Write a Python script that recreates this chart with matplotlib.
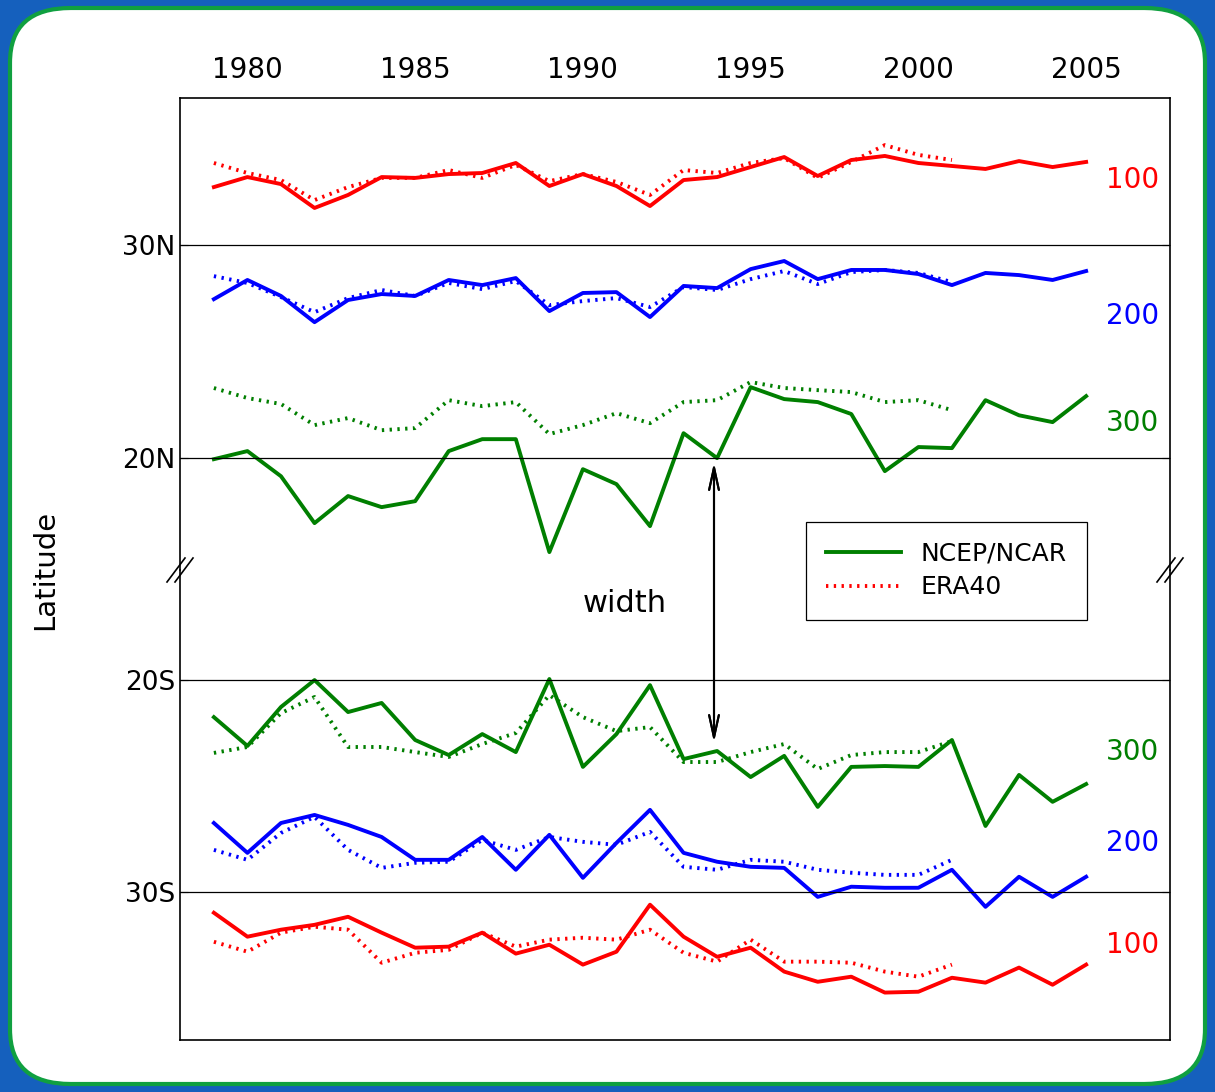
import matplotlib.pyplot as plt
from matplotlib.patches import FancyBboxPatch
from matplotlib.lines import Line2D

years = list(range(1979, 2006))
years_era = list(range(1979, 2002))

# northern hemisphere edge latitude (deg N)
ncep_n100 = [32.72, 33.19, 32.86, 31.74, 32.35, 33.19, 33.15, 33.33, 33.38, 33.85, 32.77, 33.33, 32.77, 31.83,
             33.05, 33.19, 33.66, 34.13, 33.24, 33.99, 34.18, 33.85, 33.71, 33.57, 33.94, 33.66, 33.90]
era_n100 = [33.85, 33.38, 33.05, 32.11, 32.72, 33.15, 33.15, 33.52, 33.15, 33.76, 33.00, 33.33, 32.96, 32.35,
            33.52, 33.38, 33.85, 34.08, 33.15, 33.90, 34.69, 34.23, 33.99]
ncep_n200 = [27.46, 28.36, 27.61, 26.38, 27.42, 27.70, 27.61, 28.36, 28.12, 28.45, 26.90, 27.75, 27.79, 26.62,
             28.08, 27.98, 28.87, 29.25, 28.40, 28.83, 28.83, 28.64, 28.12, 28.69, 28.59, 28.36, 28.78]
era_n200 = [28.54, 28.22, 27.56, 26.85, 27.51, 27.89, 27.61, 28.22, 27.93, 28.31, 27.18, 27.37, 27.51, 27.09,
            28.03, 27.89, 28.40, 28.78, 28.17, 28.73, 28.83, 28.69, 28.26]
ncep_n300 = [19.95, 20.33, 19.15, 16.95, 18.22, 17.70, 17.98, 20.33, 20.89, 20.89, 15.59, 19.48, 18.78, 16.81,
             21.17, 20.00, 23.33, 22.77, 22.63, 22.07, 19.39, 20.52, 20.47, 22.72, 22.01, 21.69, 22.91]
era_n300 = [23.29, 22.82, 22.54, 21.55, 21.88, 21.31, 21.41, 22.72, 22.44, 22.63, 21.13, 21.55, 22.11, 21.64,
            22.63, 22.72, 23.57, 23.29, 23.19, 23.10, 22.63, 22.72, 22.25]

# southern hemisphere edge latitude (negative = deg S)
ncep_s300 = [-21.75, -23.11, -21.27, -20.0, -21.51, -21.08, -22.83, -23.54, -22.55, -23.40, -19.95, -24.10, -22.55,
             -20.24, -23.73, -23.35, -24.58, -23.58, -25.99, -24.10, -24.06, -24.10, -22.83, -26.89, -24.48, -25.75,
             -24.91]
era_s300 = [-23.44, -23.16, -21.56, -20.80, -23.16, -23.16, -23.40, -23.63, -23.02, -22.50, -20.71, -21.75, -22.41,
            -22.22, -23.87, -23.87, -23.40, -23.02, -24.20, -23.54, -23.40, -23.40, -22.88]
ncep_s200 = [-26.75, -28.16, -26.75, -26.37, -26.84, -27.41, -28.49, -28.49, -27.41, -28.96, -27.31, -29.34, -27.69,
             -26.13, -28.16, -28.58, -28.82, -28.87, -30.24, -29.76, -29.81, -29.81, -28.96, -30.71, -29.29, -30.24,
             -29.29]
era_s200 = [-28.02, -28.49, -27.22, -26.46, -28.02, -28.87, -28.63, -28.58, -27.55, -28.02, -27.41, -27.64, -27.78,
            -27.17, -28.82, -28.96, -28.49, -28.58, -28.96, -29.10, -29.20, -29.20, -28.49]
ncep_s100 = [-30.99, -32.12, -31.79, -31.56, -31.18, -31.93, -32.64, -32.59, -31.93, -32.92, -32.50, -33.44, -32.83,
             -30.61, -32.12, -33.07, -32.64, -33.77, -34.25, -34.01, -34.76, -34.72, -34.06, -34.29, -33.58, -34.39,
             -33.44]
era_s100 = [-32.36, -32.83, -31.93, -31.65, -31.79, -33.35, -32.88, -32.74, -31.93, -32.59, -32.26, -32.17, -32.26,
            -31.79, -32.88, -33.30, -32.26, -33.30, -33.30, -33.35, -33.77, -34.01, -33.44]

RED, BLUE, GREEN = "#ff0000", "#0000ff", "#007f00"
W, H = 1215, 1092

fig = plt.figure(figsize=(W / 100, H / 100), dpi=100)
fig.patch.set_facecolor("#1560bd")
fig.patches.append(FancyBboxPatch((10 / W, 8 / H), 1195 / W, 1076 / H, boxstyle="round,pad=0,rounding_size=0.05",
                                  transform=fig.transFigure, facecolor="white", edgecolor="#10a040", lw=3,
                                  zorder=-10))

L, R, T, B, BRK = 180, 1170, 98, 1040, 570
ax_n = fig.add_axes([L / W, 1 - BRK / H, (R - L) / W, (BRK - T) / H])
ax_s = fig.add_axes([L / W, 1 - B / H, (R - L) / W, (B - BRK) / H])

lw = 2.8
for ax, series in [(ax_n, [(ncep_n100, era_n100, RED), (ncep_n200, era_n200, BLUE), (ncep_n300, era_n300, GREEN)]),
                   (ax_s, [(ncep_s300, era_s300, GREEN), (ncep_s200, era_s200, BLUE), (ncep_s100, era_s100, RED)])]:
    ax.patch.set_alpha(0)
    for ncep, era, c in series:
        ax.plot(years, ncep, color=c, lw=lw)
        ax.plot(years_era, era, color=c, lw=lw, ls=(0, (0.6, 1.4)))
    ax.set_xlim(1977.99, 2007.5)
    ax.tick_params(labelsize=19, direction="in", length=6, right=True, top=True)
    for s in ax.spines.values():
        s.set_linewidth(1.2)

ax_n.set_ylim(14.75, 36.9)
ax_n.set_yticks([20, 30], ["20N", "30N"])
ax_n.axhline(20, color="black", lw=0.9)
ax_n.axhline(30, color="black", lw=0.9)
ax_n.spines["bottom"].set_visible(False)
ax_n.xaxis.tick_top()
ax_n.set_xticks(range(1980, 2006, 5))
ax_n.tick_params(axis="x", bottom=False, length=0, pad=10, labelsize=20)

ax_s.set_ylim(-37.0, -14.8)
ax_s.set_yticks([-30, -20], ["30S", "20S"])
ax_s.axhline(-20, color="black", lw=0.9)
ax_s.axhline(-30, color="black", lw=0.9)
ax_s.spines["top"].set_visible(False)
ax_s.set_xticks([])

# level labels
for txt, y, c in [("100", 180, RED), ("200", 316, BLUE), ("300", 423, GREEN),
                  ("300", 752, GREEN), ("200", 843, BLUE), ("100", 945, RED)]:
    fig.text(1133 / W, 1 - y / H, txt, color=c, fontsize=20, ha="center", va="center")

# break marks
for x in (L, R):
    for dx in (-4, 4):
        fig.add_artist(Line2D([(x + dx - 9) / W, (x + dx + 9) / W], [1 - (BRK + 12) / H, 1 - (BRK - 12) / H],
                              color="black", lw=1.2, transform=fig.transFigure))

fig.text(45 / W, 1 - 570 / H, "Latitude", rotation=90, fontsize=21, ha="center", va="center")

# width arrow
fig.add_artist(plt.annotate("", xy=(714 / W, 1 - 460 / H), xytext=(714 / W, 1 - 745 / H), xycoords="figure fraction",
                            arrowprops=dict(arrowstyle="<->,head_length=1.6,head_width=0.35", color="black", lw=1.5)))
fig.text(625 / W, 1 - 603 / H, "width", fontsize=22, ha="center", va="center")

handles = [Line2D([], [], color=GREEN, lw=lw), Line2D([], [], color=RED, lw=lw, ls=(0, (0.6, 1.4)))]
leg = fig.legend(handles, ["NCEP/NCAR", "ERA40"], loc="upper left", bbox_to_anchor=(793 / W, 1 - 509 / H),
                 fontsize=18, frameon=True, fancybox=False, edgecolor="black", handlelength=3.0, borderpad=0.8,
                 framealpha=1, labelspacing=0.4)
leg.get_frame().set_linewidth(0.9)

fig.savefig("out.png", dpi=100, facecolor=fig.get_facecolor())
